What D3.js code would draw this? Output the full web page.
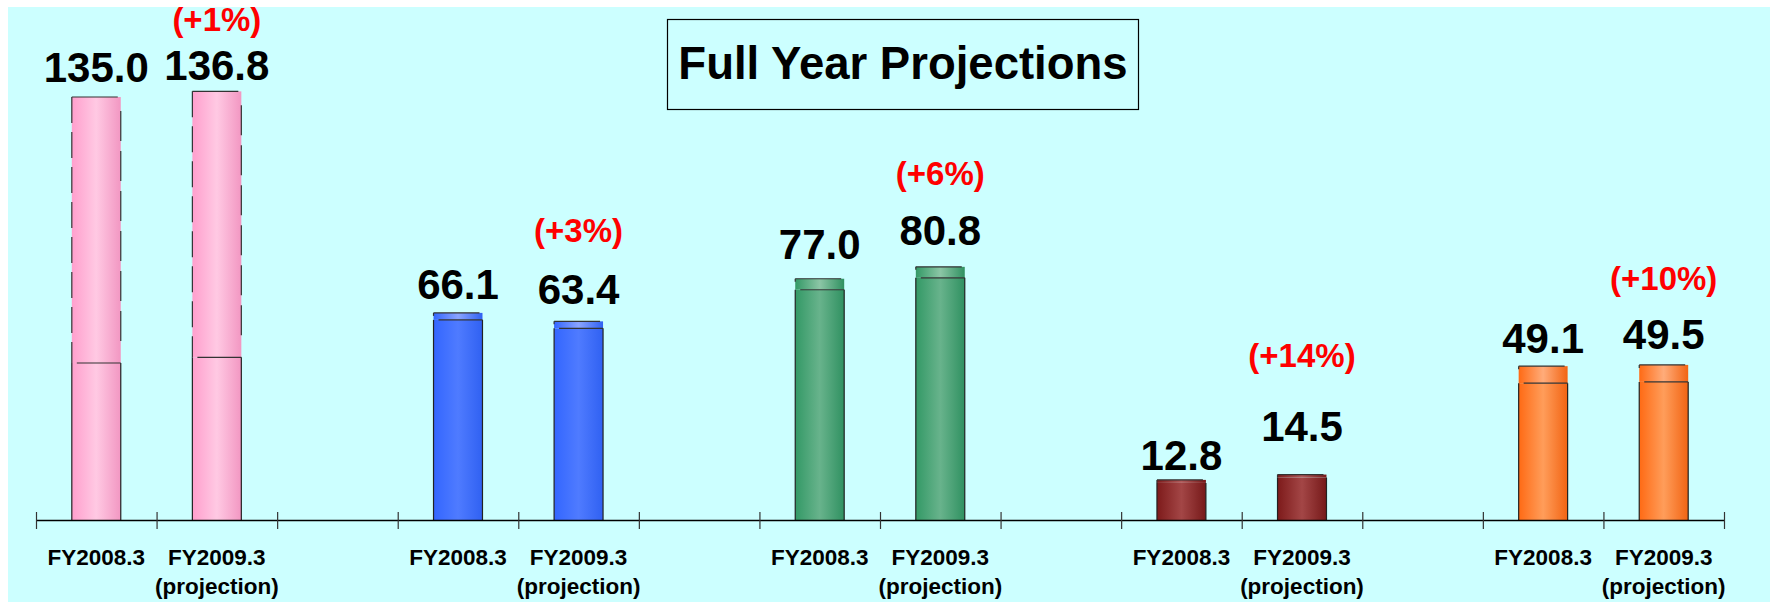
<!DOCTYPE html>
<html>
<head>
<meta charset="utf-8">
<title>Full Year Projections</title>
<script src="https://d3js.org/d3.v7.min.js"></script>
<style>
  body { margin: 0; background: #ffffff; }
  svg text { font-family: "Liberation Sans", Arial, sans-serif; font-weight: bold; }
</style>
</head>
<body>
<svg id="chart"></svg>
<script>
// data
const periods = ["FY2008.3", "FY2009.3"];
const periodNotes = ["", "(projection)"];
const fy2008 = [135.0, 66.1, 77.0, 12.8, 49.1];
const fy2009 = [136.8, 63.4, 80.8, 14.5, 49.5];
const changes = ["(+1%)", "(+3%)", "(+6%)", "(+14%)", "(+10%)"];

// look of each group: edge colour, highlight colour, cap highlight
const edgeColors  = ["#ff9fcd", "#3366ff", "#339966", "#7d1a1a", "#ff6a14"];
const lightColors = ["#ffc9e3", "#4f7bff", "#68b38c", "#a34646", "#ff9d5a"];
const capColors   = ["#ffcce6", "#8aa4ff", "#8cc6a6", "#b05a5a", "#ffac7a"];
const capDepth    = [266, 7, 11, 3, 17];
// label lifts above bar tops, per bar (FY2008, FY2009)
const valueLift   = [[15, 11], [14, 17], [20, 22], [10, 34], [13, 16]];
const changeLift  = [49, 62, 60, 74, 59];

const width = 1770, height = 602;
const baseY = 520;

const svg = d3.select("#chart").attr("width", width).attr("height", height);

// cyan backdrop
svg.append("rect")
  .attr("x", 8).attr("y", 7)
  .attr("width", width - 8).attr("height", height - 7)
  .attr("fill", "#ccffff");

// slots: two bars per group, an empty slot between groups
const slots = [];
fy2008.forEach(function(d, g) {
  slots.push(g + "-0");
  slots.push(g + "-1");
  if (g < fy2008.length - 1) slots.push("gap-" + g);
});

const x = d3.scaleBand().domain(slots).range([36, 1724])
  .paddingInner(0.594).paddingOuter(0.297);
const y = d3.scaleLinear().domain([0, 135]).range([baseY, 97]);

const bars = [];
fy2008.forEach(function(d, g) {
  bars.push({ g: g, p: 0, value: fy2008[g] });
  bars.push({ g: g, p: 1, value: fy2009[g] });
});

// gradients
const defs = svg.append("defs");
function addGrad(id, edge, light) {
  const gr = defs.append("linearGradient").attr("id", id)
    .attr("x1", "0%").attr("x2", "100%").attr("y1", "0%").attr("y2", "0%");
  gr.append("stop").attr("offset", "0%").attr("stop-color", edge);
  gr.append("stop").attr("offset", "50%").attr("stop-color", light);
  gr.append("stop").attr("offset", "100%").attr("stop-color", d3.color(edge).darker(0.15));
}
edgeColors.forEach(function(c, i) {
  addGrad("body" + i, c, lightColors[i]);
  addGrad("cap" + i, c, capColors[i]);
});

const barG = svg.append("g");
bars.forEach(function(b) {
  const x0 = x(b.g + "-" + b.p);
  const w = x.bandwidth();
  const top = y(b.value);
  const capBottom = Math.min(top + capDepth[b.g], baseY);
  const pink = b.g === 0;

  // body
  barG.append("rect")
    .attr("x", x0).attr("y", capBottom)
    .attr("width", w).attr("height", baseY - capBottom)
    .attr("fill", "url(#body" + b.g + ")");
  // cap
  barG.append("rect")
    .attr("x", x0).attr("y", top)
    .attr("width", w).attr("height", capBottom - top)
    .attr("fill", pink ? "url(#body0)" : "url(#cap" + b.g + ")");

  // side edges of the body
  [x0, x0 + w].forEach(function(ex) {
    barG.append("line")
      .attr("x1", ex).attr("x2", ex).attr("y1", capBottom).attr("y2", baseY)
      .attr("stroke", "#222").attr("stroke-width", 1.2);
  });
  // side edges of the cap (broken on the tall pink caps)
  barG.append("line")
    .attr("x1", x0).attr("x2", x0).attr("y1", top).attr("y2", capBottom)
    .attr("stroke", "#333").attr("stroke-width", 1.2)
    .attr("stroke-dasharray", pink ? "26,9" : "3,40");
  if (pink) {
    barG.append("line")
      .attr("x1", x0 + w).attr("x2", x0 + w).attr("y1", top + 14).attr("y2", capBottom - 18)
      .attr("stroke", "#333").attr("stroke-width", 1.2)
      .attr("stroke-dasharray", "30,10");
  }
  // top rim
  barG.append("line")
    .attr("x1", x0).attr("x2", x0 + w - 3).attr("y1", top).attr("y2", top)
    .attr("stroke", "#333").attr("stroke-width", 1.2);
  // cap seam
  if (capBottom - top > 4) {
    barG.append("line")
      .attr("x1", x0 + 5).attr("x2", x0 + w).attr("y1", capBottom).attr("y2", capBottom)
      .attr("stroke", "#333").attr("stroke-width", 1.2);
  }

  // value label
  svg.append("text")
    .attr("x", x0 + w / 2)
    .attr("y", top - valueLift[b.g][b.p])
    .attr("text-anchor", "middle")
    .style("font-size", "42px")
    .attr("fill", "#000")
    .text(d3.format(".1f")(b.value));

  // change label over the projection bar
  if (b.p === 1) {
    const ly = Math.max(top - valueLift[b.g][b.p] - changeLift[b.g], 31);
    svg.append("text")
      .attr("x", x0 + w / 2)
      .attr("y", ly)
      .attr("text-anchor", "middle")
      .style("font-size", "33px")
      .attr("fill", "#ff0000")
      .text(changes[b.g]);
  }
});

// axis with ticks on slot boundaries
const tickScale = d3.scaleLinear().domain([0, slots.length]).range([36, 1724]);
const axis = svg.append("g")
  .attr("transform", "translate(0," + baseY + ")")
  .call(d3.axisBottom(tickScale).tickValues(d3.range(slots.length + 1)).tickSizeOuter(0).tickFormat(""));
axis.select(".domain").attr("stroke", "#000").attr("stroke-width", 1.6);
axis.selectAll(".tick line").attr("y1", -8).attr("y2", 9).attr("stroke", "#333").attr("stroke-width", 1.2);

// category labels
bars.forEach(function(b) {
  const cx = x(b.g + "-" + b.p) + x.bandwidth() / 2;
  svg.append("text")
    .attr("x", cx).attr("y", 565)
    .attr("text-anchor", "middle")
    .style("font-size", "22.5px")
    .text(periods[b.p]);
  if (periodNotes[b.p]) {
    svg.append("text")
      .attr("x", cx).attr("y", 594)
      .attr("text-anchor", "middle")
      .style("font-size", "22.5px")
      .text(periodNotes[b.p]);
  }
});

// title box
svg.append("rect")
  .attr("x", 667.5).attr("y", 19.5)
  .attr("width", 471).attr("height", 90)
  .attr("fill", "none").attr("stroke", "#000").attr("stroke-width", 1.2);
svg.append("text")
  .attr("x", 903).attr("y", 79)
  .attr("text-anchor", "middle")
  .style("font-size", "45.5px")
  .text("Full Year Projections");
</script>
</body>
</html>
